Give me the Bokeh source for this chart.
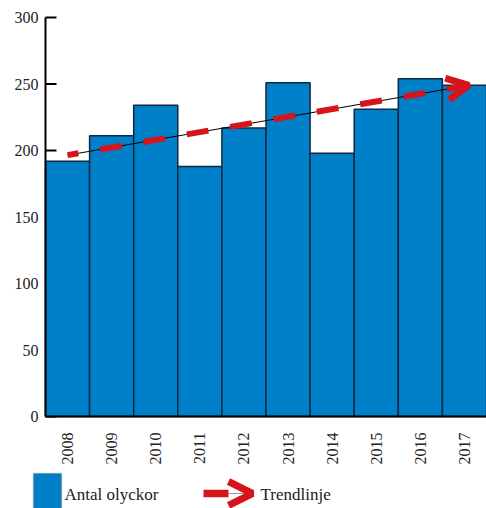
import math
from bokeh.plotting import figure
from bokeh.models import Range1d, FixedTicker, Arrow, OpenHead, BoxAnnotation, Label
from bokeh.embed import file_html
from bokeh.resources import INLINE

# ---- data ----
years = [2008, 2009, 2010, 2011, 2012, 2013, 2014, 2015, 2016, 2017]
accidents = [192, 211, 234, 188, 217, 251, 198, 231, 254, 249]
trend_years = [2008, 2017.1]
trend_values = [196.5, 249]
y_ticks = [0, 50, 100, 150, 200, 250, 300]
series_label = "Antal olyckor"
trend_label = "Trendlinje"

FONT = "Liberation Serif"
BLUE = "#0080C8"
EDGE = "#0B2A42"
RED = "#D5151B"
TXT = "#222222"

# ---- layout (pixels) ----
W, H = 486, 508
AX_LEFT, AX_TOP, AX_BOTTOM = 45, 17, 416      # where the axes sit on the canvas
x0, x1 = years[0] - 0.5, years[-1] + 0.5
y0, y1 = y_ticks[0], y_ticks[-1]
xs = (W - AX_LEFT) / (x1 - x0)                  # px per year
ys = (AX_BOTTOM - AX_TOP) / (y1 - y0)           # px per unit

p = figure(width=W, height=H, output_backend="svg", toolbar_location=None,
           x_range=Range1d(x0 - AX_LEFT / xs, x1),
           y_range=Range1d(y0 - (H - AX_BOTTOM) / ys, y1 + AX_TOP / ys),
           min_border=0, min_border_left=0, min_border_right=0,
           min_border_top=0, min_border_bottom=0)
p.outline_line_color = None
p.xgrid.visible = False
p.ygrid.visible = False

# inner y ticks, drawn under the bars
p.ray(x=[x0] * len(y_ticks), y=y_ticks, length=11, length_units="screen",
      angle=0, line_color="black", line_width=2)

p.vbar(x=years, top=accidents, width=1, fill_color=BLUE, line_color=EDGE, line_width=1.5)

# thin black trend line under the red dashed arrow
p.line(x=trend_years, y=trend_values, line_color="black", line_width=1)
p.add_layout(Arrow(x_start=trend_years[0], y_start=trend_values[0],
                   x_end=trend_years[1], y_end=trend_values[1],
                   line_color=RED, line_width=6, line_dash="22 22", line_dash_offset=11,
                   end=OpenHead(size=22, line_color=RED, line_width=7)))

ya = p.yaxis[0]
ya.fixed_location = x0
ya.bounds = (y0, y1)
ya.ticker = FixedTicker(ticks=y_ticks)
ya.axis_line_width = 2
ya.axis_line_color = "black"
ya.major_tick_in = 0
ya.major_tick_out = 0
ya.minor_tick_line_color = None
ya.major_label_standoff = 7
ya.major_label_text_font = FONT
ya.major_label_text_font_size = "16px"
ya.major_label_text_color = TXT

xa = p.xaxis[0]
xa.fixed_location = y0
xa.bounds = (x0, x1)
xa.ticker = FixedTicker(ticks=years)
xa.axis_line_width = 2
xa.axis_line_color = "black"
xa.major_tick_in = 0
xa.major_tick_out = 0
xa.minor_tick_line_color = None
xa.major_label_orientation = math.pi / 2
xa.major_label_standoff = 16
xa.major_label_text_font = FONT
xa.major_label_text_font_size = "16px"
xa.major_label_text_color = TXT

# ---- legend (screen units: x from left, y up from bottom of the frame) ----
def sy(page_y):
    return H - page_y

p.add_layout(BoxAnnotation(left=33, right=61, top=sy(473), bottom=sy(520),
                           left_units="screen", right_units="screen",
                           top_units="screen", bottom_units="screen",
                           fill_color=BLUE, fill_alpha=1, line_color="#555555", line_width=1.5))
p.add_layout(Label(x=64, y=sy(494), x_units="screen", y_units="screen", text=series_label,
                   text_font=FONT, text_font_size="17px", text_color=TXT,
                   text_baseline="middle"))
p.add_layout(Arrow(x_start=203, y_start=sy(493), x_end=228, y_end=sy(493),
                   start_units="screen", end_units="screen", end=None,
                   line_color=RED, line_width=7.5))
p.add_layout(Arrow(x_start=228, y_start=sy(493), x_end=250, y_end=sy(493),
                   start_units="screen", end_units="screen", end=None,
                   line_color="#999999", line_width=1))
p.add_layout(Arrow(x_start=232, y_start=sy(493), x_end=252, y_end=sy(493),
                   start_units="screen", end_units="screen", line_alpha=0,
                   end=OpenHead(size=24, line_color=RED, line_width=7)))
p.add_layout(Label(x=260, y=sy(494), x_units="screen", y_units="screen", text=trend_label,
                   text_font=FONT, text_font_size="17px", text_color=TXT,
                   text_baseline="middle"))

open("out.html", "w").write(file_html(p, INLINE))
